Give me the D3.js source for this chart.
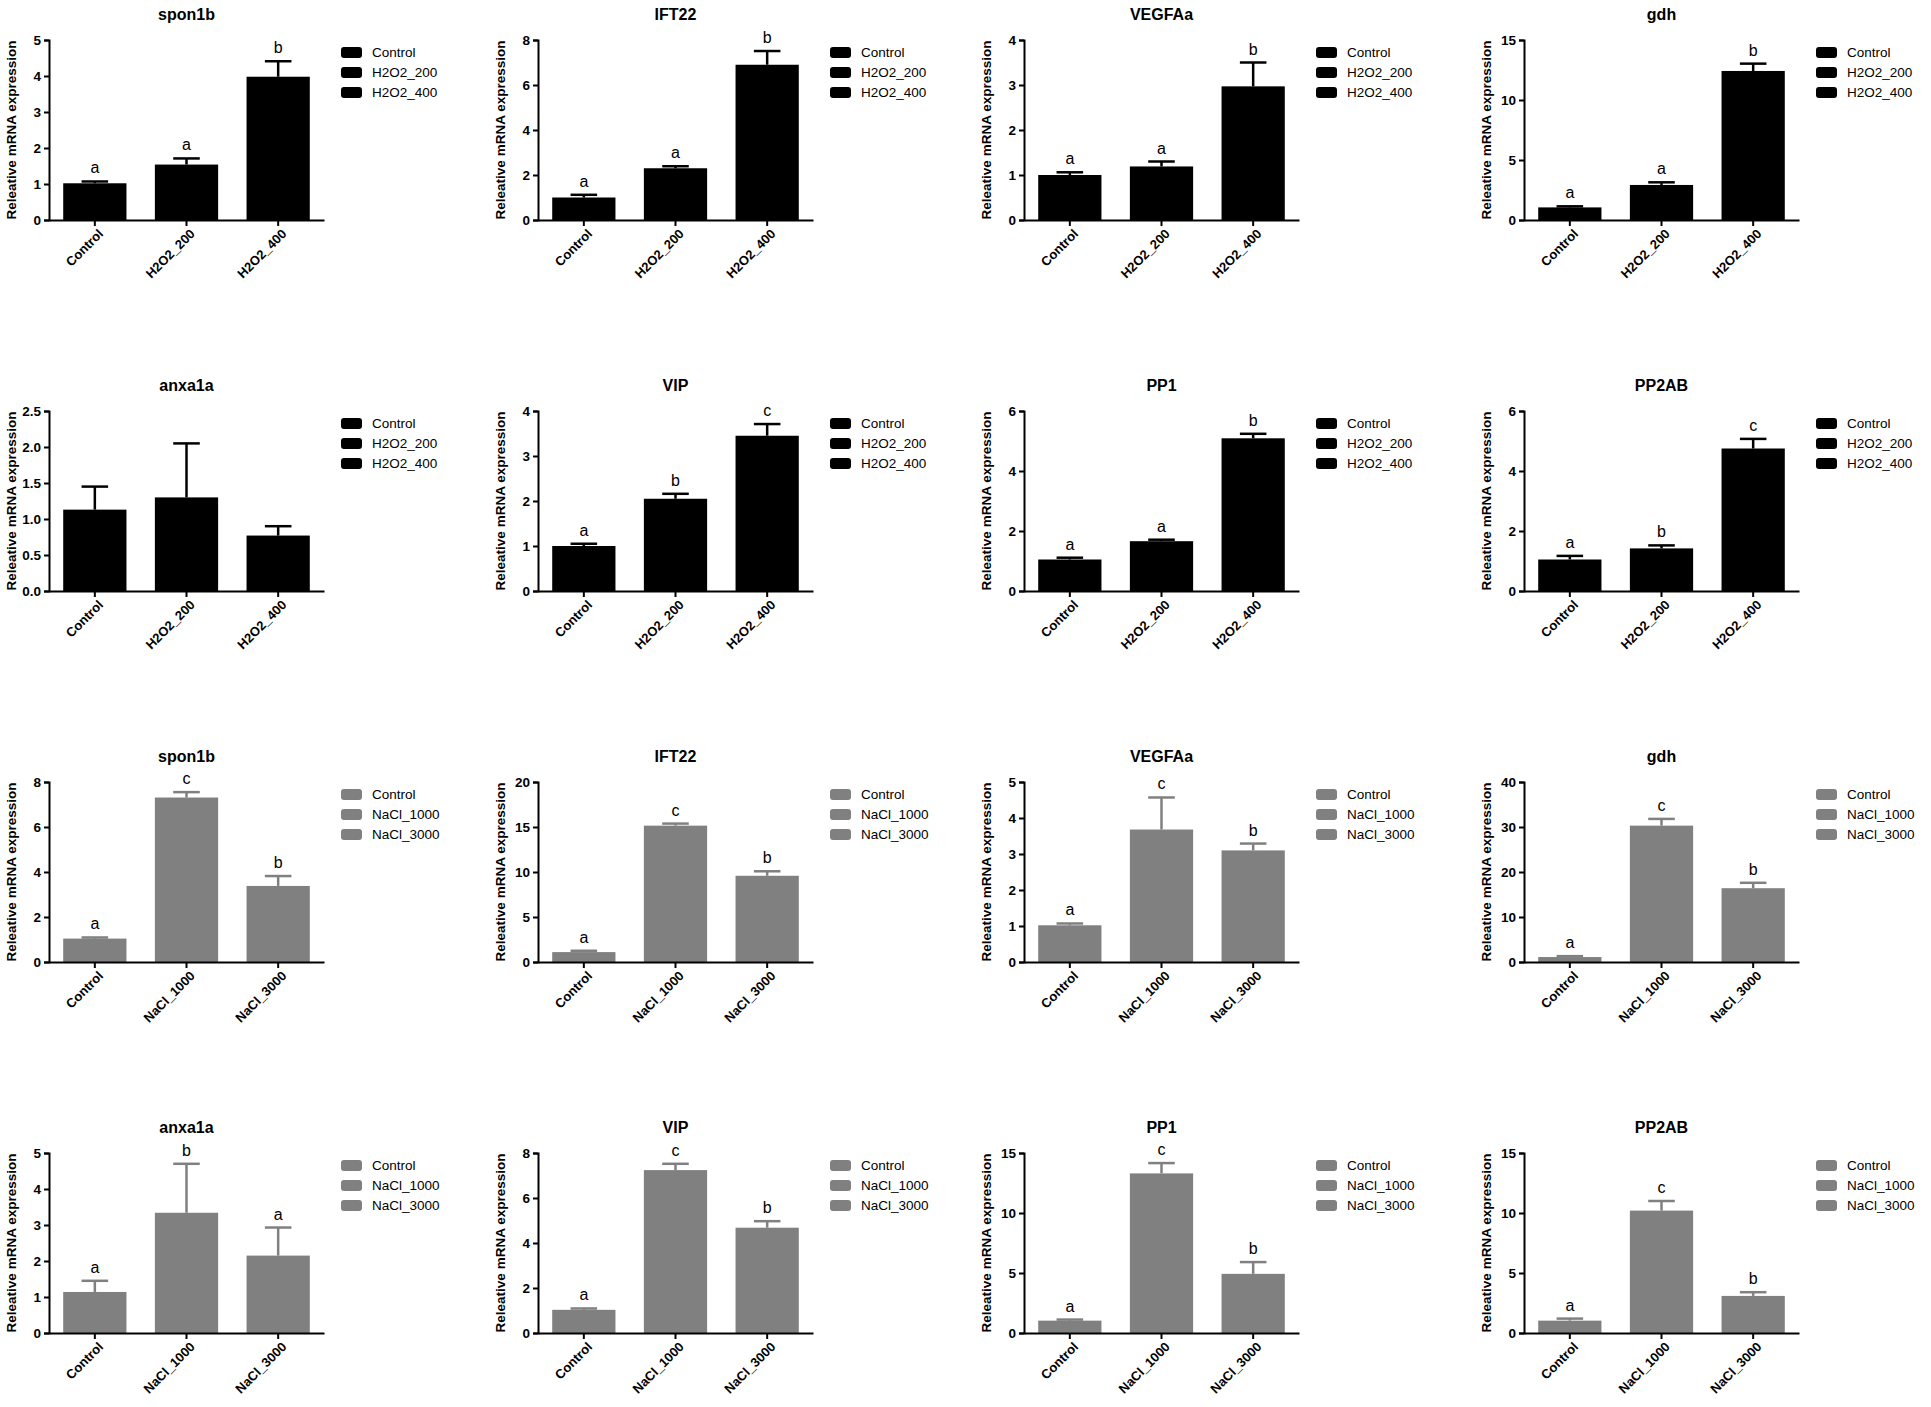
<!DOCTYPE html>
<html lang="en">
<head>
    <meta charset="UTF-8">
    <title>Relative mRNA expression</title>
    <script src="https://d3js.org/d3.v7.min.js"></script>
    <style>
        body { margin: 0; background: #fff; }
        svg { display: block; font-family: "Liberation Sans", Arial, sans-serif; }
        .title { font-size: 16px; font-weight: bold; }
        .ylabel { font-size: 13.5px; font-weight: bold; }
        .axis text { font-size: 13px; font-weight: bold; fill: #000; }
        .yaxis text { font-size: 13.5px; }
        .axis path, .axis line { stroke: #000; stroke-width: 2px; }
        .legend text { font-size: 13.5px; }
        .letter { font-size: 16px; }
    </style>
</head>
<body>
<script>
    // genes, in panel order (4 per row)
    var genes = ["spon1b", "IFT22", "VEGFAa", "gdh", "anxa1a", "VIP", "PP1", "PP2AB"];

    var h2o2Groups = ["Control", "H2O2_200", "H2O2_400"];
    var naclGroups = ["Control", "NaCl_1000", "NaCl_3000"];

    // H2O2 experiment: means, SD and significance letters
    var h2o2Means = [
        [1.02, 1.54, 3.98], [1.0, 2.3, 6.9], [1.0, 1.19, 2.97], [1.05, 2.92, 12.42],
        [1.13, 1.30, 0.77], [1.0, 2.05, 3.45], [1.05, 1.66, 5.09], [1.05, 1.42, 4.75]
    ];
    var h2o2Sd = [
        [0.05, 0.17, 0.43], [0.12, 0.09, 0.61], [0.06, 0.11, 0.53], [0.09, 0.22, 0.61],
        [0.32, 0.75, 0.13], [0.05, 0.11, 0.26], [0.06, 0.05, 0.15], [0.12, 0.10, 0.32]
    ];
    var h2o2Letters = [
        ["a", "a", "b"], ["a", "a", "b"], ["a", "a", "b"], ["a", "a", "b"],
        ["", "", ""], ["a", "b", "c"], ["a", "a", "b"], ["a", "b", "c"]
    ];
    var h2o2YMax = [5, 8, 4, 15, 2.5, 4, 6, 6];
    var h2o2YStep = [1, 2, 1, 5, 0.5, 1, 2, 2];

    // NaCl experiment
    var naclMeans = [
        [1.04, 7.31, 3.38], [1.1, 15.15, 9.58], [1.02, 3.68, 3.10], [1.1, 30.3, 16.4],
        [1.14, 3.34, 2.15], [1.03, 7.24, 4.68], [1.03, 13.3, 4.93], [1.03, 10.2, 3.09]
    ];
    var naclSd = [
        [0.05, 0.24, 0.44], [0.15, 0.23, 0.5], [0.05, 0.89, 0.19], [0.2, 1.5, 1.2],
        [0.31, 1.36, 0.78], [0.06, 0.28, 0.29], [0.09, 0.86, 0.98], [0.17, 0.8, 0.31]
    ];
    var naclLetters = [
        ["a", "c", "b"], ["a", "c", "b"], ["a", "c", "b"], ["a", "c", "b"],
        ["a", "b", "a"], ["a", "c", "b"], ["a", "c", "b"], ["a", "c", "b"]
    ];
    var naclYMax = [8, 20, 5, 40, 5, 8, 15, 15];
    var naclYStep = [2, 5, 1, 10, 1, 2, 5, 5];

    var width = 1931, height = 1407;
    var colX = [49, 538, 1024, 1524];
    var rowY = [40, 411, 782, 1153];
    var plotW = 275, plotH = 180;

    var svg = d3.select("body").append("svg")
        .attr("width", width)
        .attr("height", height);

    svg.append("rect").attr("width", width).attr("height", height).attr("fill", "#fff");

    var experiments = [
        { groups: h2o2Groups, means: h2o2Means, sd: h2o2Sd, letters: h2o2Letters,
          yMax: h2o2YMax, yStep: h2o2YStep, color: "#000000", row0: 0 },
        { groups: naclGroups, means: naclMeans, sd: naclSd, letters: naclLetters,
          yMax: naclYMax, yStep: naclYStep, color: "#808080", row0: 2 }
    ];

    experiments.forEach(function(exp) {
        genes.forEach(function(gene, gi) {
            var row = exp.row0 + Math.floor(gi / 4),
                col = gi % 4;
            drawPanel(svg.append("g")
                .attr("transform", "translate(" + colX[col] + "," + rowY[row] + ")"),
                gene, exp, gi);
        });
    });

    function drawPanel(g, gene, exp, gi) {
        var x = d3.scaleBand()
            .domain(exp.groups)
            .range([0, plotW])
            .paddingInner(0.31)
            .paddingOuter(0.155);

        var y = d3.scaleLinear()
            .domain([0, exp.yMax[gi]])
            .range([plotH, 0]);

        var step = exp.yStep[gi];
        var ticks = d3.range(0, exp.yMax[gi] + step / 2, step);
        var fmt = step < 1 ? d3.format(".1f") : d3.format("d");

        var rows = exp.groups.map(function(name, i) {
            return { name: name, mean: exp.means[gi][i], sd: exp.sd[gi][i], letter: exp.letters[gi][i] };
        });

        // bars
        g.selectAll(".bar")
            .data(rows)
            .enter().append("rect")
            .attr("class", "bar")
            .attr("x", d => x(d.name))
            .attr("y", d => y(d.mean))
            .attr("width", x.bandwidth())
            .attr("height", d => plotH - y(d.mean))
            .attr("fill", exp.color);

        // upper error bars
        var cap = x.bandwidth() * 0.42;
        var err = g.selectAll(".err")
            .data(rows)
            .enter().append("g")
            .attr("class", "err")
            .attr("stroke", exp.color)
            .attr("stroke-width", 2.5);

        err.append("line")
            .attr("x1", d => x(d.name) + x.bandwidth() / 2)
            .attr("x2", d => x(d.name) + x.bandwidth() / 2)
            .attr("y1", d => y(d.mean))
            .attr("y2", d => y(d.mean + d.sd));

        err.append("line")
            .attr("x1", d => x(d.name) + x.bandwidth() / 2 - cap / 2)
            .attr("x2", d => x(d.name) + x.bandwidth() / 2 + cap / 2)
            .attr("y1", d => y(d.mean + d.sd))
            .attr("y2", d => y(d.mean + d.sd));

        // significance letters
        g.selectAll(".letter")
            .data(rows)
            .enter().append("text")
            .attr("class", "letter")
            .attr("x", d => x(d.name) + x.bandwidth() / 2)
            .attr("y", d => y(d.mean + d.sd) - 8)
            .attr("text-anchor", "middle")
            .text(d => d.letter);

        // axes
        g.append("g")
            .attr("class", "axis yaxis")
            .call(d3.axisLeft(y).tickValues(ticks).tickFormat(fmt).tickSize(5).tickPadding(3));

        var xa = g.append("g")
            .attr("class", "axis")
            .attr("transform", "translate(0," + plotH + ")")
            .call(d3.axisBottom(x).tickSize(6).tickSizeOuter(0));

        xa.selectAll("text")
            .attr("text-anchor", "end")
            .attr("dx", "-0.3em")
            .attr("dy", "0.6em")
            .attr("transform", "rotate(-45)");

        // title
        g.append("text")
            .attr("class", "title")
            .attr("x", plotW / 2)
            .attr("y", -20)
            .attr("text-anchor", "middle")
            .text(gene);

        // y label
        g.append("text")
            .attr("class", "ylabel")
            .attr("transform", "translate(-33," + (plotH / 2) + ") rotate(-90)")
            .attr("text-anchor", "middle")
            .text("Releative mRNA expression");

        // legend
        var lg = g.append("g")
            .attr("class", "legend")
            .attr("transform", "translate(" + (plotW + 17) + ",7)");

        var item = lg.selectAll(".item")
            .data(exp.groups)
            .enter().append("g")
            .attr("class", "item")
            .attr("transform", (d, i) => "translate(0," + (i * 20) + ")");

        item.append("rect")
            .attr("width", 21)
            .attr("height", 11)
            .attr("rx", 3)
            .attr("fill", exp.color);

        item.append("text")
            .attr("x", 31)
            .attr("y", 10)
            .text(d => d);
    }
</script>
</body>
</html>
